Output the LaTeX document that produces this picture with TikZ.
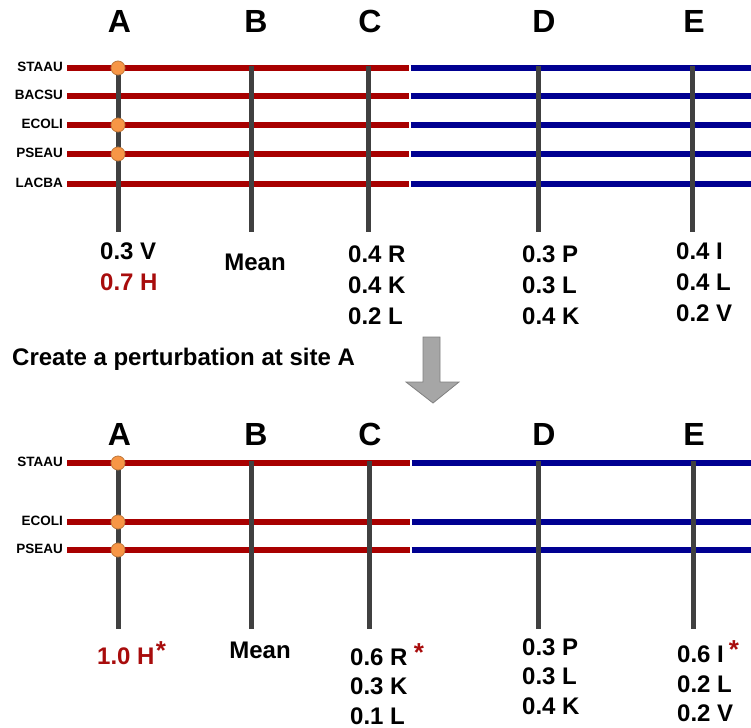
\documentclass[tikz,border=0pt]{standalone}
\usepackage{fontspec}
\setmainfont{Liberation Sans}

\definecolor{chainred}{RGB}{168,0,0}
\definecolor{chainblue}{RGB}{0,0,145}
\definecolor{sitegray}{RGB}{64,64,64}
\definecolor{hitorange}{RGB}{247,150,70}
\definecolor{hitedge}{RGB}{190,120,60}
\definecolor{starred}{RGB}{168,12,12}
\definecolor{arrowgray}{RGB}{166,166,166}

\tikzset{
  sitename/.style={font=\bfseries\fontsize{32}{32}\selectfont, inner sep=0pt},
  species/.style={font=\bfseries\fontsize{13.5}{14}\selectfont, inner sep=0pt, anchor=east},
  freqs/.style={font=\bfseries\fontsize{24}{31}\selectfont, inner sep=0pt, align=left, anchor=north west},
  freqs2/.style={freqs, font=\bfseries\fontsize{24}{29.5}\selectfont},
  redpart/.style={line width=6pt, chainred},
  bluepart/.style={line width=6pt, chainblue},
  siteline/.style={line width=5pt, sitegray},
  hit/.style={circle, fill=hitorange, draw=hitedge, line width=0.8pt, minimum size=14pt, inner sep=0pt},
  star/.style={font=\bfseries\fontsize{26}{26}\selectfont, text=starred, inner sep=0pt, anchor=north},
}

\begin{document}
\begin{tikzpicture}[x=1pt, y=-1pt]
\useasboundingbox (0,0) rectangle (751,727);

% ---- alignment before the change ----
\foreach \sp/\y in {STAAU/68, BACSU/96, ECOLI/125, PSEAU/154, LACBA/184} {
  \node[species] (pre-\sp) at (63,\y-1) {\sp};
  \coordinate (pre-\sp-l) at (67,\y);
  \coordinate (pre-\sp-m) at (409,\y);
  \coordinate (pre-\sp-r) at (751,\y);
  \draw[redpart] (pre-\sp-l) -- (pre-\sp-m);
  \draw[bluepart] ([xshift=1.5pt]pre-\sp-m) -- (pre-\sp-r);
}
% sites
\foreach \s/\x/\lx in {A/118/119.5, B/251/256, C/368/370, D/538/544, E/692/694} {
  \node[sitename] (pre-\s) at (\lx,21) {\s};
  \coordinate (pre-\s-top) at (\x,66);
  \coordinate (pre-\s-bot) at (\x,232);
  \draw[siteline] (pre-\s-top) -- (pre-\s-bot);
}
% residues sitting at site A
\foreach \sp in {STAAU, ECOLI, PSEAU}
  \node[hit] (pre-hit-\sp) at (pre-A-top |- pre-\sp-l) {};

% frequencies
\node[freqs, anchor=west] (pre-fA1) at (100,251) {0.3 V};
\node[freqs, anchor=west, text=starred] (pre-fA2) at (100,282) {0.7 H};
\node[freqs, anchor=center] (pre-fB) at (255,262) {Mean};
\node[freqs] (pre-fC) at (348,245.5) {0.4 R\\0.4 K\\0.2 L};
\node[freqs] (pre-fD) at (522,245.5) {0.3 P\\0.3 L\\0.4 K};
\node[freqs] (pre-fE) at (676,242.5) {0.4 I\\0.4 L\\0.2 V};

% step between the two
\node[freqs, anchor=base west] (step-text) at (12,365) {Create a perturbation at site A};
\draw[fill=arrowgray, draw=gray, line width=0.8pt]
  (423,337) -- (440,337) -- (440,382) -- (459,382) -- (433,403)
  -- (406,382) -- (423,382) -- cycle;

% ---- alignment after the change ----
\foreach \sp/\y in {STAAU/463, ECOLI/522, PSEAU/550} {
  \node[species] (post-\sp) at (63,\y-1) {\sp};
  \coordinate (post-\sp-l) at (67,\y);
  \coordinate (post-\sp-m) at (410,\y);
  \coordinate (post-\sp-r) at (751,\y);
  \draw[redpart] (post-\sp-l) -- (post-\sp-m);
  \draw[bluepart] ([xshift=1.5pt]post-\sp-m) -- (post-\sp-r);
}
\foreach \s/\x/\lx in {A/118/119.5, B/251/256, C/369/370, D/538.5/544, E/693/694} {
  \node[sitename] (post-\s) at (\lx,434) {\s};
  \coordinate (post-\s-top) at (\x,461);
  \coordinate (post-\s-bot) at (\x,629);
  \draw[siteline] (post-\s-top) -- (post-\s-bot);
}
\foreach \sp in {STAAU, ECOLI, PSEAU}
  \node[hit] (post-hit-\sp) at (post-A-top |- post-\sp-l) {};

\node[freqs2, anchor=west, text=starred] (post-fA) at (97,656) {1.0 H};
\node[star] (post-sA) at (161,641) {*};
\node[freqs2, anchor=center] (post-fB) at (260,650) {Mean};
\node[freqs2] (post-fC) at (350,648.5) {0.6 R\\0.3 K\\0.1 L};
\node[star] (post-sC) at (419,643) {*};
\node[freqs2] (post-fD) at (522,638.5) {0.3 P\\0.3 L\\0.4 K};
\node[freqs2] (post-fE) at (677,646) {0.6 I\\0.2 L\\0.2 V};
\node[star] (post-sE) at (734,640) {*};
\end{tikzpicture}
\end{document}
